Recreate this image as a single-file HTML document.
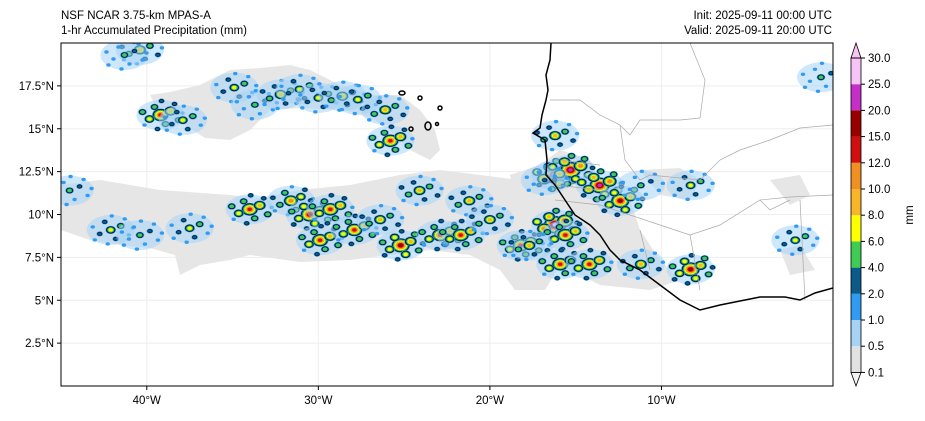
<!DOCTYPE html>
<html><head><meta charset="utf-8"><style>
body{margin:0;background:#fff;width:925px;height:416px;overflow:hidden;font-family:"Liberation Sans",sans-serif}
svg text{font-family:"Liberation Sans",sans-serif;fill:#000}
</style></head><body>
<svg id="c" width="925" height="416" font-size="11.5">
<text x="61" y="19">NSF NCAR 3.75-km MPAS-A</text>
<text x="61" y="34">1-hr Accumulated Precipitation (mm)</text>
<text x="832" y="19" text-anchor="end">Init: 2025-09-11 00:00 UTC</text>
<text x="832" y="34" text-anchor="end">Valid: 2025-09-11 20:00 UTC</text>
<defs><clipPath id="mc"><rect x="61" y="43" width="772" height="343"/></clipPath></defs>
<g id="grid"></g>
<g clip-path="url(#mc)">
<g fill="#e6e6e6">
<path d="M150,95 L170,92 200,85 230,70 260,68 290,65 310,70 340,85 370,95 400,95 420,110 435,130 440,150 430,160 410,150 395,135 375,120 345,110 300,108 270,110 250,130 230,140 205,138 185,125 160,115Z"/>
<path d="M61,185 L100,180 160,190 230,195 260,198 300,190 350,185 400,175 440,170 480,175 520,180 545,185 560,200 565,240 560,265 545,290 515,290 500,270 470,255 430,250 390,255 350,260 300,262 250,255 230,260 200,265 180,275 175,255 150,248 120,245 90,240 61,230Z"/>
<path d="M510,175 L540,165 560,150 590,160 600,180 630,200 640,230 660,260 680,280 650,290 600,285 570,270 545,250 530,220 515,200Z"/>
<path d="M640,170 L680,168 700,180 690,200 660,195Z"/>
<path d="M770,180 L800,175 810,195 790,205Z"/>
<path d="M780,250 L800,245 815,270 790,275Z"/>
</g>
<g id="cells"></g>
<g fill="none" stroke="#aaa" stroke-width="0.7">
<path d="M550,100 L580,100 600,115 620,125 630,135 640,120 680,120 700,118 705,80 690,43"/>
<path d="M620,125 L625,160 640,180 650,175 700,180 720,160 740,150 770,140 800,128 833,125"/>
<path d="M555,200 L600,205 630,215 660,225 690,235 720,225 760,200 790,197 833,195"/>
<path d="M640,230 L650,270 M690,235 L700,290 M760,200 L770,210 790,200 M800,200 L805,300"/>
<path d="M560,160 L600,165 M556,185 L600,190"/>
</g>
<g fill="none" stroke="#000" stroke-width="1.5">
<path d="M551,43 L550,60 546,75 548,90 546,100 542,115 540,128 533,133 545,140 547,160 546,175 555,185 565,200 575,215 590,225 600,235 610,250 620,260 640,270 660,285 680,300 700,310 720,305 760,297 785,297 800,300 815,293 833,288"/>
<ellipse cx="402" cy="93" rx="3" ry="2"/><ellipse cx="420" cy="98" rx="2" ry="2"/><ellipse cx="440" cy="108" rx="2" ry="2"/>
<ellipse cx="428" cy="126" rx="3" ry="4"/><ellipse cx="411" cy="129" rx="2" ry="2"/><circle cx="437" cy="124" r="1.5"/>
</g>
</g>
<rect x="61" y="43" width="772" height="343" fill="none" stroke="#000" stroke-width="1"/>
<g id="axes"></g>
<g id="cbar"></g>
<text transform="translate(913,215) rotate(-90)" text-anchor="middle">mm</text>
</svg>
<script>
const NS="http://www.w3.org/2000/svg";
const lonTicks=[-40,-30,-20,-10];
const lonLabels=["40°W","30°W","20°W","10°W"];
const latTicks=[2.5,5,7.5,10,12.5,15,17.5];
const latLabels=["2.5°N","5°N","7.5°N","10°N","12.5°N","15°N","17.5°N"];
const levelLabels=["0.1","0.5","1.0","2.0","4.0","6.0","8.0","10.0","12.0","15.0","20.0","25.0","30.0"];
const levelColors=["#e1e1e1","#a6d3f5","#2f9bf2","#0a5a8a","#3fcc52","#ffff00","#f9b428","#f08f22","#d20f0f","#990000","#c52ec9","#f8c4f6"];
const cellLon=[-39.2,-37.9,-34.9,-33.7,-32.2,-31.1,-30.0,-28.6,-27.7,-26.1,-25.8,-40.4,-41.3,-44.5,-42.1,-40.4,-37.5,-34.0,-31.6,-30.5,-29.3,-29.9,-27.9,-26.4,-25.2,-22.9,-21.7,-24.1,-21.2,-20.0,-18.2,-16.2,-15.3,-13.6,-12.4,-16.2,-15.6,-17.7,-15.9,-14.2,-11.2,-8.3,-8.3,-11.2,-16.2,-2.2,-0.7,-16.8];
const cellLat=[15.8,15.5,17.4,16.4,17.0,17.3,16.8,16.9,16.7,16.1,14.3,19.6,19.3,11.4,9.1,8.8,9.2,10.3,10.8,10.0,10.3,8.5,9.1,9.7,8.2,8.8,8.8,11.4,10.8,9.7,8.2,12.3,12.6,11.7,10.8,9.4,8.8,8.2,7.1,7.1,7.1,6.8,11.7,11.7,14.6,8.5,18.0,12.0];
const cellMax=[8,5,5,4,6,5,5,6,5,6,8,6,4,4,5,4,5,8,7,9,8,8,8,6,9,8,8,6,6,6,8,11,10,10,9,11,8,6,8,8,6,9,5,4,6,5,4,3];
const mapLon0=-45,mapLon1=0,mapLat0=0,mapLat1=20;
const X0=61,X1=833,Y0=43,Y1=386;
const px=lon=>X0+(lon-mapLon0)/(mapLon1-mapLon0)*(X1-X0);
const py=lat=>Y1-(lat-mapLat0)/(mapLat1-mapLat0)*(Y1-Y0);
function mk(t,a,p){const e=document.createElementNS(NS,t);for(const k in a)e.setAttribute(k,a[k]);p.appendChild(e);return e;}
const grid=document.getElementById('grid'),axes=document.getElementById('axes');
lonTicks.forEach((v,i)=>{const x=px(v);
 const g=mk('line',{x1:x,x2:x,y1:Y0,y2:Y1,stroke:'#eee','stroke-width':1},grid);
 
 
 const t=mk('line',{x1:x,x2:x,y1:Y1,y2:Y1+4,stroke:'#000'},axes);
 
 
 const l=mk('text',{x:x,y:Y1+18,'text-anchor':'middle'},axes);l.textContent=lonLabels[i];
 
 });
latTicks.forEach((v,i)=>{const y=py(v);
 const g=mk('line',{x1:X0,x2:X1,y1:y,y2:y,stroke:'#eee','stroke-width':1},grid);
 
 
 const t=mk('line',{x1:X0-4,x2:X0,y1:y,y2:y,stroke:'#000'},axes);
 
 
 const l=mk('text',{x:X0-7,y:y+4,'text-anchor':'end'},axes);l.textContent=latLabels[i];
 
 });
const cells=document.getElementById('cells');
const offs=[[0,0,1],[-11,4,0.6],[10,-4,0.7],[5,9,0.5],[-6,-8,0.55],[18,5,0.45],[-18,-3,0.45],[-3,14,0.35],[14,-11,0.4],[-16,10,0.3],[22,-2,0.3],[1,-14,0.35]];
cellLon.forEach((lo,i)=>{const cx=px(lo),cy=py(cellLat[i]),m=cellMax[i];
 const g=mk('g',{},cells);
 
 
 mk('ellipse',{cx:cx,cy:cy,rx:24,ry:15,fill:levelColors[1],opacity:0.55},g);
 offs.forEach(o=>{const mm=Math.max(2,Math.round(m*o[2]));
  for(let k=2;k<=mm;k++){const r=(mm-k+1)*0.8+0.9;
   mk('ellipse',{cx:cx+o[0],cy:cy+o[1],rx:r*1.3,ry:r,fill:levelColors[k],stroke:k===3?'#000':'none','stroke-width':0.6},g);}});
});
const cb=document.getElementById('cbar');const cbX=851,cbW=10,cbTop=58,cbStep=26.2;
levelColors.forEach((c,i)=>{const yb=cbTop+(12-i)*cbStep;
 mk('rect',{x:cbX,y:yb-cbStep,width:cbW,height:cbStep,fill:c},cb);});
mk('polygon',{points:`${cbX},${cbTop} ${cbX+cbW/2},43 ${cbX+cbW},${cbTop}`,fill:'#f8c4f6',stroke:'#000','stroke-width':0.8},cb);
mk('polygon',{points:`${cbX},${cbTop+12*cbStep} ${cbX+cbW/2},386 ${cbX+cbW},${cbTop+12*cbStep}`,fill:'#f4f4f4',stroke:'#000','stroke-width':0.8},cb);
mk('rect',{x:cbX,y:cbTop,width:cbW,height:12*cbStep,fill:'none',stroke:'#000','stroke-width':0.8},cb);
levelLabels.forEach((s,i)=>{const y=cbTop+(12-i)*cbStep;
 mk('line',{x1:cbX+cbW,x2:cbX+cbW+4,y1:y,y2:y,stroke:'#000'},cb);
 const t=mk('text',{x:cbX+cbW+7,y:y+4},cb);t.textContent=s;
 
 });
</script>
</body></html>
